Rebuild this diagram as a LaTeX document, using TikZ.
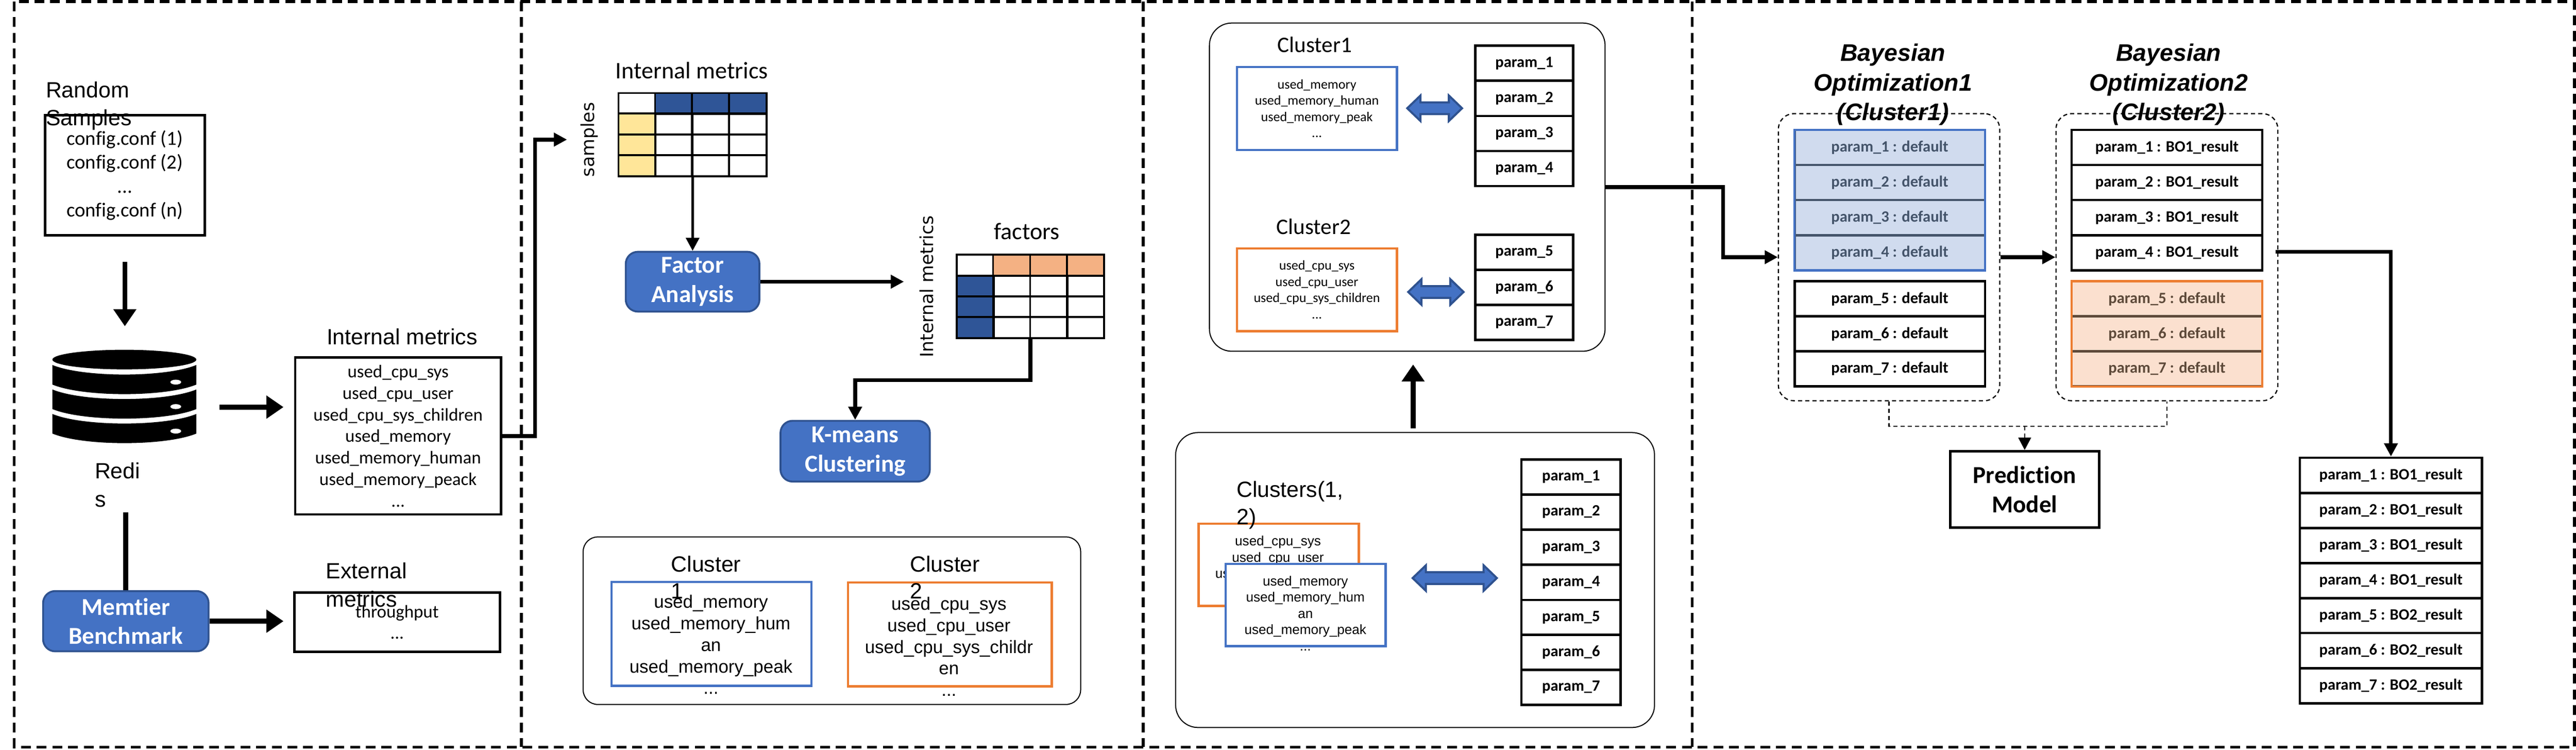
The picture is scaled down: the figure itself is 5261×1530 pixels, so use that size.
\documentclass[tikz,border=0pt]{standalone}
\usepackage{fontspec}
\setmainfont[Ligatures=CommonOff]{Carlito}
\newfontfamily\arialfont{Liberation Sans}
\newfontfamily\dejafont{DejaVu Sans}
\usetikzlibrary{arrows.meta}

\definecolor{nodeblue}{HTML}{4472C4}
\definecolor{edgeblue}{HTML}{2F528F}
\definecolor{headblue}{HTML}{2F5597}
\definecolor{sand}{HTML}{FFE699}
\definecolor{peach}{HTML}{F4B183}
\definecolor{clusterorange}{HTML}{ED7D31}
\definecolor{paleblue}{HTML}{D0DBEE}
\definecolor{paleorange}{HTML}{FBE0CF}
\definecolor{slateink}{HTML}{44546A}
\definecolor{brownink}{HTML}{5E4A3A}

\tikzset{
  boxsize/.style 2 args={minimum width=#1*0.01cm,minimum height=#2*0.01cm,inner sep=0pt},
  framedash/.style={line width=1.7pt,dash pattern=on 5.7pt off 3.4pt},
  thinbox/.style={draw,line width=1.4pt,align=center},
  roundbox/.style={draw,line width=.6pt,rounded corners=#1},
  stage/.style={draw=edgeblue,fill=nodeblue,line width=1.1pt,rounded corners=7pt,text=white,
    align=center,font=\bfseries\fontsize{14.1}{17}\selectfont},
  cell/.style={draw,line width=1.1pt,boxsize={76}{42.5}},
  listfont/.style={font=\fontsize{10.45}{12.5}\selectfont},
  smallfont/.style={font=\fontsize{7.8}{9.4}\selectfont},
  arialtitle/.style={font=\arialfont\fontsize{12.8}{16}\selectfont,inner sep=0pt,align=left},
  ariallist/.style={font=\arialfont\fontsize{10.45}{12.5}\selectfont,inner sep=0pt,align=center},
  ariasmall/.style={font=\arialfont\fontsize{7.8}{9.4}\selectfont,inner sep=0pt,align=center},
  tabletitle/.style={font=\fontsize{13.8}{16}\selectfont,inner sep=0pt},
  sidetitle/.style={font=\dejafont\fontsize{10.4}{12}\selectfont,inner sep=0pt,rotate=90},
  colourbox/.style={draw=#1,line width=1.3pt,align=center},
  paramrow/.style={draw,line width=1.4pt,font=\bfseries\fontsize{9.15}{11}\selectfont},
  linkarrow/.style={draw=edgeblue,fill=nodeblue,line width=1.2pt,line join=miter},
  heavy/.style={line width=2.85pt},
  bigarrow/.style={line width=2.85pt,-{Triangle[length=9.9pt,width=12.8pt]}},
  midarrow/.style={line width=2.2pt,-{Triangle[length=7.6pt,width=7.6pt]}},
  dashline/.style={line width=.7pt,dash pattern=on 2.4pt off 1.8pt},
}

\begin{document}
\begin{tikzpicture}[x=0.01cm,y=-0.01cm]
\useasboundingbox (0,0) rectangle (5261,1530);

% Dashed frame and the three dividers
\draw[framedash] (29,3) rectangle (5258,1525);
\foreach \xdiv in {1065,2335,3456}
  \draw[framedash] (\xdiv,3) -- (\xdiv,1525);

% First panel: samples, database, benchmark
\node[thinbox,boxsize={326}{245},font=\fontsize{11.6}{13.9}\selectfont] (Samples) at (255,358)
  {config.conf (1)\\config.conf (2)\\...\\config.conf (n)};
\node[arialtitle,anchor=west] (SamplesTitle) at (93,216) {Random\\Samples};

% The database is three disks under a lid
\fill (254,734) ellipse [x radius=147,y radius=20];
\foreach \ytop in {745,795,845} {
  \fill (107,\ytop) .. controls (170,\ytop+26) and (338,\ytop+26) .. (401,\ytop)
    -- (401,\ytop+40) .. controls (338,\ytop+66) and (170,\ytop+66) .. (107,\ytop+40) -- cycle;
  \fill[white] (359,\ytop+35) ellipse [x radius=11,y radius=5];
}
\node[arialtitle,anchor=west,font=\arialfont\fontsize{12.8}{16.5}\selectfont] (RedisTitle) at (193,990) {Redi\\s};

\coordinate (DbIn) at (255,666);
\draw[bigarrow] (Samples.south |- 0,535) -- (DbIn);

\node[stage,boxsize={338}{123}] (Memtier) at (257,1268) {Memtier\\Benchmark};
\coordinate (RedisEnd) at (257,1046);
\draw[heavy] (RedisEnd) -- (Memtier.north);

\node[thinbox,boxsize={420}{320},listfont] (IntBox) at (813,890)
  {used\_cpu\_sys\\used\_cpu\_user\\used\_cpu\_sys\_children\\used\_memory\\used\_memory\_human\\used\_memory\_peack\\...};
\node[arialtitle] (IntTitle) at (821,687) {Internal metrics};
\coordinate (DbOut) at (448,831);
\coordinate (IntIn) at (579,831);
\draw[bigarrow] (DbOut) -- (IntIn);

\node[thinbox,boxsize={420}{121},listfont] (ExtBox) at (811,1270) {throughput\\...};
\node[arialtitle,anchor=west,font=\arialfont\fontsize{12.8}{16.5}\selectfont] (ExtTitle) at (665,1194) {External\\metrics};
\coordinate (ExtIn) at (579,1268);
\draw[bigarrow] (Memtier.east) -- (ExtIn);

% Second panel: the two tables
\node[cell] (InCorner) at (1301,211) {};
\foreach \cx in {1376,1451,1527}
  \node[cell,fill=headblue] (InHead\cx) at (\cx,211) {};
\foreach \cy in {253,296,338}
  \node[cell,fill=sand] (InSide\cy) at (1301,\cy) {};
\foreach \cx in {1376,1451,1527}
  \foreach \cy in {253,296,338}
    \node[cell] (InCell\cx\cy) at (\cx,\cy) {};
\node[draw,line width=1.1pt,boxsize={303}{170}] (InTable) at (1414.5,275) {};
\node[tabletitle] (InTitle) at (1413,144) {Internal metrics};
\node[sidetitle] (InSideTitle) at (1204,285) {samples};

\coordinate (InTableIn) at (1158,285);
\draw[midarrow] (IntBox.east) -- ++(67,0) |- (InTableIn);

\node[stage,boxsize={273}{122}] (Factor) at (1414.5,575) {Factor\\Analysis};
\draw[midarrow,line width=1.7pt] (InTable.south) -- (Factor.north);
\coordinate (FactorOut) at (1846,575);
\draw[midarrow] (Factor.east) -- (FactorOut);

\node[cell] (OutCorner) at (1992,541) {};
\foreach \cx in {2066,2142,2217}
  \node[cell,fill=peach] (OutHead\cx) at (\cx,541) {};
\foreach \cy in {584,626,669}
  \node[cell,fill=headblue] (OutSide\cy) at (1992,\cy) {};
\foreach \cx in {2066,2142,2217}
  \foreach \cy in {584,626,669}
    \node[cell] (OutCell\cx\cy) at (\cx,\cy) {};
\node[draw,line width=1.1pt,boxsize={301}{170}] (OutTable) at (2104.5,605) {};
\node[tabletitle] (OutTitle) at (2097,472) {factors};
\node[sidetitle] (OutSideTitle) at (1892,585) {Internal metrics};

\node[stage,boxsize={305}{124}] (Kmeans) at (1746.5,921) {K-means\\Clustering};
\draw[midarrow] (OutTable.south) -- ++(0,84) -| (Kmeans.north);

% Clustering result
\node[roundbox=8.5pt,boxsize={1016}{342}] (ResultBox) at (1699,1267) {};
\node[colourbox=nodeblue,boxsize={408}{212}] (ResultOne) at (1453,1294) {};
\node[colourbox=clusterorange,boxsize={416}{212}] (ResultTwo) at (1940,1295) {};
\node[ariallist] (ResultOneText) at (1452,1316)
  {used\_memory\\used\_memory\_hum\\an\\used\_memory\_peak\\...};
\node[ariallist] (ResultTwoText) at (1938,1320)
  {used\_cpu\_sys\\used\_cpu\_user\\used\_cpu\_sys\_childr\\en\\...};
\node[arialtitle,anchor=west,font=\arialfont\fontsize{12.8}{15.6}\selectfont] (ResultOneTitle) at (1370,1178) {Cluster\\1};
\node[arialtitle,anchor=west,font=\arialfont\fontsize{12.8}{15.6}\selectfont] (ResultTwoTitle) at (1858,1178) {Cluster\\2};

% Third panel, upper box: clusters matched to parameters
\node[roundbox=13pt,boxsize={808}{670}] (TopBox) at (2874,382) {};
\node[tabletitle,font=\fontsize{12.9}{15}\selectfont] (TopOneTitle) at (2685,91) {Cluster1};
\node[tabletitle,font=\fontsize{12.9}{15}\selectfont] (TopTwoTitle) at (2683,463) {Cluster2};
\node[colourbox=nodeblue,boxsize={327}{169},smallfont] (TopOne) at (2689.5,221.5)
  {used\_memory\\used\_memory\_human\\used\_memory\_peak\\...};
\node[colourbox=clusterorange,boxsize={327}{169},smallfont] (TopTwo) at (2689.5,591.5)
  {used\_cpu\_sys\\used\_cpu\_user\\used\_cpu\_sys\_children\\...};
\foreach \n/\cy in {1/129,2/201,3/272.5,4/344}
  \node[paramrow,boxsize={200}{71.5}] (TopParam\n) at (3113,\cy) {param\_\n};
\foreach \n/\cy in {5/515,6/586.5,7/658}
  \node[paramrow,boxsize={200}{71.5}] (TopParam\n) at (3113,\cy) {param\_\n};

% Third panel, lower box: everything together
\coordinate (LowOut) at (2886,874);
\coordinate (TopIn) at (2886,744);
\draw[bigarrow] (LowOut) -- (TopIn);
\node[roundbox=13pt,boxsize={978}{602}] (LowBox) at (2890,1184) {};
\node[colourbox=clusterorange,boxsize={327}{168},fill=white] (LowTwo) at (2611.5,1153) {};
\node[ariasmall] (LowTwoText) at (2610,1170)
  {used\_cpu\_sys\\used\_cpu\_user\\used\_cpu\_sys\_childr\\en\\...};
\node[colourbox=nodeblue,boxsize={327}{168},fill=white] (LowOne) at (2666.5,1235) {};
\node[ariasmall] (LowOneText) at (2666,1252)
  {used\_memory\\used\_memory\_hum\\an\\used\_memory\_peak\\...};
\node[arialtitle,anchor=west,font=\arialfont\fontsize{12.8}{16}\selectfont] (LowTitle) at (2525,1031) {Clusters(1,\\2)};
\foreach \n/\cy in {1/973.5,2/1045,3/1117,4/1189,5/1260.5,6/1331.5,7/1403}
  \node[paramrow,boxsize={203}{71.5}] (LowParam\n) at (3208.5,\cy) {param\_\n};

% Block arrows between the lists and the parameters
\foreach \xa/\xb/\yc in {2874/2986/221,2876/2989/596,2885/3057/1180}
  \draw[linkarrow] (\xa,\yc) -- (\xa+27,\yc-26) -- (\xa+27,\yc-12) -- (\xb-27,\yc-12) -- (\xb-27,\yc-26)
    -- (\xb,\yc) -- (\xb-27,\yc+26) -- (\xb-27,\yc+12) -- (\xa+27,\yc+12) -- (\xa+27,\yc+26) -- cycle;

% Fourth panel: two optimisation rounds
\node[draw,boxsize={452}{586},dashline,rounded corners=9pt] (RoundOne) at (3858,525) {};
\node[draw,boxsize={453}{586},dashline,rounded corners=9pt] (RoundTwo) at (4425.5,525) {};

\foreach \n/\cy in {1/301,2/372.5,3/444,4/516}
  \node[paramrow,boxsize={389}{71.5},draw=slateink,fill=paleblue,text=slateink] (OneParam\n) at (3859.5,\cy) {param\_\n{} : default};
\node[colourbox=nodeblue,boxsize={389}{287}] (OneFrame) at (3859.5,408.5) {};
\foreach \n/\cy in {5/610,6/681.5,7/753}
  \node[paramrow,boxsize={389}{71.5}] (OneParam\n) at (3859.5,\cy) {param\_\n{} : default};

\foreach \n/\cy in {1/301,2/372.5,3/444,4/516}
  \node[paramrow,boxsize={389}{71.5}] (TwoParam\n) at (4425.5,\cy) {param\_\n{} : BO1\_result};
\foreach \n/\cy in {5/610,6/681.5,7/753}
  \node[paramrow,boxsize={389}{71.5},draw=brownink,fill=paleorange,text=brownink] (TwoParam\n) at (4425.5,\cy) {param\_\n{} : default};
\node[colourbox=clusterorange,boxsize={389}{215}] (TwoFrame) at (4425.5,681.5) {};

\foreach \tname/\cx/\n in {OneTitle/3866/1,TwoTitle/4429/2}
  \node[inner sep=0pt,align=center,font=\arialfont\bfseries\itshape\fontsize{13.9}{17.2}\selectfont] (\tname) at (\cx,173)
    {Bayesian\\Optimization\n\\(Cluster\n)};

\draw[midarrow] (TopBox.east) -- ++(240,0) |- (RoundOne.west);
\draw[midarrow] (RoundOne.east) -- (RoundTwo.west);

% Both rounds feed the prediction model
\node[thinbox,boxsize={304}{156},font=\bfseries\fontsize{14.1}{17}\selectfont] (Predict) at (4135,999) {Prediction\\Model};
\coordinate (PredictIn) at (4135,870);
\draw[dashline] (RoundOne.south) |- (PredictIn) -| (RoundTwo.south);
\draw[dashline,-{Triangle[length=7.2pt,width=7.4pt]}] (PredictIn) -- (Predict.north);

% Final parameters
\foreach \n/\cy/\r in {1/970/1,2/1042/1,3/1113.5/1,4/1185/1,5/1256.5/2,6/1328/2,7/1400/2}
  \node[paramrow,boxsize={372}{71.5}] (FinalParam\n) at (4883,\cy) {param\_\n{} : BO\r\_result};
\coordinate (RoundOut) at (4648,514);
\draw[midarrow] (RoundOut) -| (FinalParam1.north);

\end{tikzpicture}
\end{document}
